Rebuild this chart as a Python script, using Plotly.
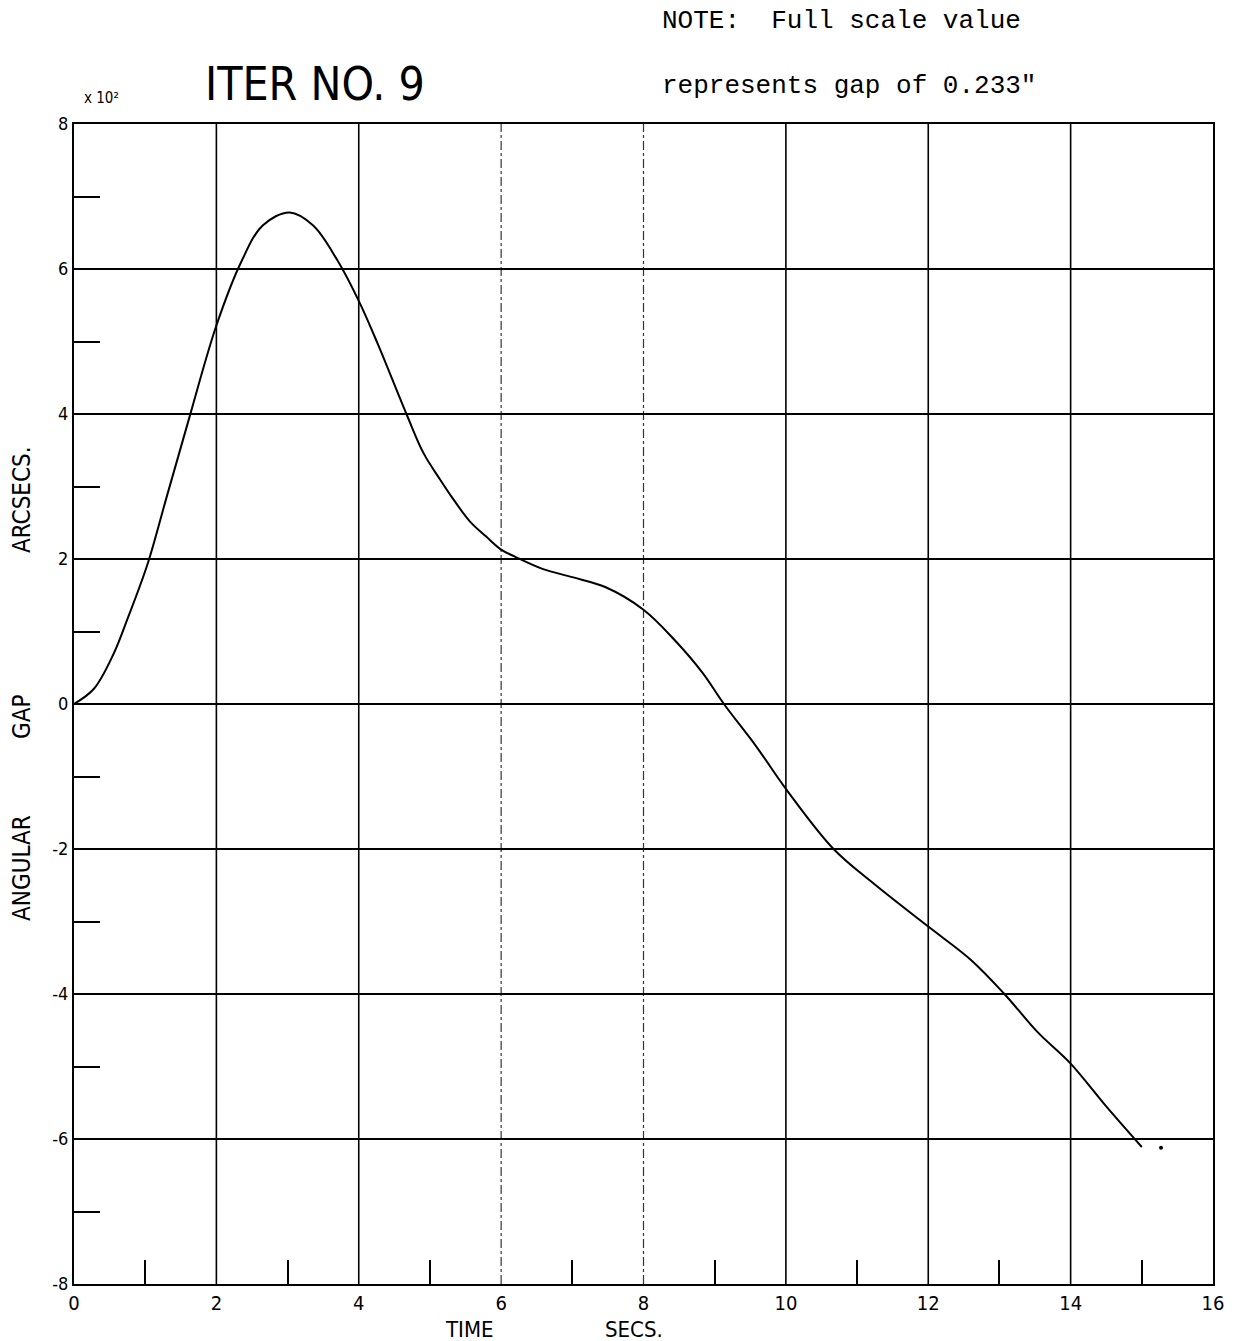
import plotly.graph_objects as go

# ---- data ----
TIME = [0, 0.28, 0.56, 0.75, 1.03, 1.3, 1.62, 2.0, 2.35, 2.65, 3.03, 3.36, 3.7,
        4.01, 4.27, 4.67, 4.91, 5.14, 5.31, 5.56, 5.79, 6.0, 6.2, 6.59, 7.0,
        7.47, 8.0, 8.43, 8.83, 9.13, 9.58, 10.0, 10.67, 11.25, 12.0, 12.6,
        13.07, 13.54, 14.0, 14.5, 15.0]
GAP = [0, 0.21, 0.7, 1.17, 1.92, 2.85, 3.95, 5.22, 6.1, 6.6, 6.78, 6.6, 6.12,
       5.54, 4.96, 4.0, 3.46, 3.1, 2.85, 2.52, 2.31, 2.13, 2.03, 1.86, 1.75,
       1.61, 1.30, 0.89, 0.43, 0.0, -0.58, -1.17, -2.0, -2.49, -3.07, -3.53,
       -4.0, -4.53, -4.96, -5.55, -6.11]
END_DOT_T = [15.27]
END_DOT_G = [-6.12]

X_TICKS = [0, 2, 4, 6, 8, 10, 12, 14, 16]
X_TICK_TEXT = ["0", "2", "4", "6", "8", "10", "12", "14", "16"]
Y_TICKS = [8, 6, 4, 2, 0, -2, -4, -6, -8]
Y_TICK_TEXT = ["8", "6", "4", "2", "0", "-2", "-4", "-6", "-8"]
GRID_X_SOLID = [2, 4, 10, 12, 14]
GRID_X_DASHED = [6, 8]

PLOT_FONT = "Liberation Sans Narrow, DejaVu Sans Condensed, sans-serif"
TYPE_FONT = "Liberation Mono, Courier New, monospace"

fig = go.Figure()
fig.add_trace(go.Scatter(x=TIME, y=GAP, mode="lines",
                         line=dict(color="black", width=2, shape="spline", smoothing=1.0),
                         hoverinfo="skip", showlegend=False))
fig.add_trace(go.Scatter(x=END_DOT_T, y=END_DOT_G, mode="markers",
                         marker=dict(color="black", size=4),
                         hoverinfo="skip", showlegend=False))

shapes = []
for gx in GRID_X_SOLID:
    shapes.append(dict(type="line", xref="x", yref="paper", x0=gx, x1=gx, y0=0, y1=1,
                       line=dict(color="black", width=1.6), layer="below"))
for gx in GRID_X_DASHED:
    shapes.append(dict(type="line", xref="x", yref="paper", x0=gx, x1=gx, y0=0, y1=1,
                       line=dict(color="#333", width=1.2, dash="dashdot"), layer="below"))

fig.update_layout(
    width=1244, height=1341,
    margin=dict(l=74, r=31, t=124, b=57),
    paper_bgcolor="white", plot_bgcolor="white",
    shapes=shapes,
    xaxis=dict(range=[0, 16], tickvals=X_TICKS, ticktext=X_TICK_TEXT,
               showgrid=False, zeroline=False, ticks="",
               showline=True, linecolor="black", linewidth=2, mirror=True,
               tickfont=dict(family=PLOT_FONT, size=20, color="black"),
               minor=dict(dtick=2, tick0=1, ticks="inside", ticklen=24,
                          tickwidth=1.6, tickcolor="black", showgrid=False)),
    yaxis=dict(range=[-8, 8], tickvals=Y_TICKS, ticktext=Y_TICK_TEXT,
               showgrid=True, gridcolor="black", gridwidth=1.6,
               zeroline=False, ticks="",
               showline=True, linecolor="black", linewidth=2, mirror=True,
               tickfont=dict(family=PLOT_FONT, size=18, color="black"),
               minor=dict(dtick=2, tick0=1, ticks="inside", ticklen=26,
                          tickwidth=1.6, tickcolor="black", showgrid=False)),
)

ann = []
ann.append(dict(text="ITER NO. 9", xref="paper", yref="paper", x=(315 - 74) / 1139,
                y=1 + (124 - 84) / 1160, xanchor="center", yanchor="middle",
                showarrow=False, font=dict(family=PLOT_FONT, size=46, color="black")))
ann.append(dict(text="x 10²", xref="paper", yref="paper", x=(101 - 74) / 1139,
                y=1 + (124 - 98) / 1160, xanchor="center", yanchor="middle",
                showarrow=False, font=dict(family=PLOT_FONT, size=15, color="black")))
ann.append(dict(text="NOTE:  Full scale value", xref="paper", yref="paper",
                x=(660 - 74) / 1139, y=1 + (124 - 21) / 1160, xanchor="left",
                yanchor="middle", showarrow=False,
                font=dict(family=TYPE_FONT, size=26, color="black")))
ann.append(dict(text="represents gap of 0.233\"", xref="paper", yref="paper",
                x=(660 - 74) / 1139, y=1 + (124 - 86) / 1160, xanchor="left",
                yanchor="middle", showarrow=False,
                font=dict(family=TYPE_FONT, size=26, color="black")))
for txt, yc in [("ARCSECS.", 500), ("GAP", 717), ("ANGULAR", 868)]:
    ann.append(dict(text=txt, xref="paper", yref="paper", x=(22 - 74) / 1139,
                    y=1 - (yc - 124) / 1160, xanchor="center", yanchor="middle",
                    textangle=-90, showarrow=False,
                    font=dict(family=PLOT_FONT, size=24, color="black")))
for txt, xc in [("TIME", 469), ("SECS.", 634)]:
    ann.append(dict(text=txt, xref="paper", yref="paper", x=(xc - 74) / 1139,
                    y=-(1329 - 1284) / 1160, xanchor="center", yanchor="middle",
                    showarrow=False, font=dict(family=PLOT_FONT, size=22, color="black")))
fig.update_layout(annotations=ann)

fig.write_html("out.html")
